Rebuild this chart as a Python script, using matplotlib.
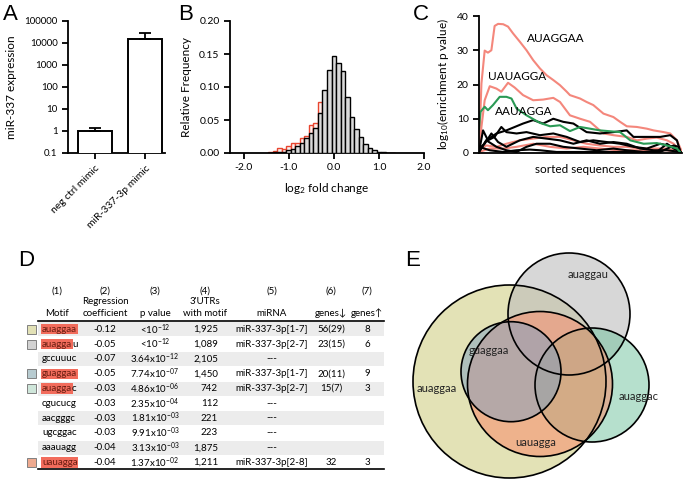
import matplotlib
matplotlib.use('Agg')
import matplotlib.pyplot as plt
from matplotlib.patches import Rectangle, Circle

plt.rcParams['font.family'] = ['Lato', 'DejaVu Sans']
plt.rcParams['mathtext.fontset'] = 'custom'
plt.rcParams['mathtext.rm'] = 'Lato'
plt.rcParams['mathtext.it'] = 'Lato:italic'
plt.rcParams['mathtext.bf'] = 'Lato:bold'
plt.rcParams['axes.linewidth'] = 1.3

# ---- A: expression
expr_labels = ['neg ctrl mimic', 'miR-337-3p mimic']
expr_mean = [1.0, 15000]
expr_err = [0.4, 12500]

# ---- B: histogram of log2 fold change (bin centres, relative frequency)
bin_centers = [-1.4, -1.3, -1.2, -1.1, -1.0, -0.9, -0.8, -0.7, -0.6, -0.5, -0.4, -0.3, -0.2, -0.1,
               0.0, 0.1, 0.2, 0.3, 0.4, 0.5, 0.6, 0.7, 0.8, 0.9, 1.0, 1.1, 1.2, 1.3]
freq_all = [0.0, 0.001, 0.001, 0.002, 0.004, 0.006, 0.010, 0.015, 0.022, 0.030, 0.038, 0.061, 0.096, 0.126,
            0.147, 0.137, 0.124, 0.085, 0.054, 0.037, 0.024, 0.013, 0.008, 0.004, 0.002, 0.001, 0.0005, 0.0003]
freq_motif = [0.002, 0.003, 0.007, 0.006, 0.010, 0.015, 0.015, 0.022, 0.026, 0.042, 0.045, 0.077, 0.060, 0.040,
              0.020, 0.010, 0.005, 0.0, 0.0, 0.0, 0.0, 0.0, 0.0, 0.0, 0.0, 0.0, 0.0, 0.0]

# ---- C: enrichment curves (x = sorted sequence position, 0-100)
auaggaa_x = [0, 1.2, 2.8, 4.4, 6.1, 7.7, 9.4, 11.9, 14.3, 16.8, 20.1, 23.4, 26.7, 30, 33.3, 36.6, 39.9,
             43.2, 44.8, 49.8, 53, 56.3, 61.3, 66.2, 69.5, 72.8, 77.8, 82.7, 86, 91, 94.2, 97.5, 100]
auaggaa_y = [0.3, 20.3, 29.9, 29.3, 30, 37.1, 37.7, 37.6, 36.9, 34.9, 32.5, 30, 27.1, 24.7, 22.7, 21.3, 19.8,
             17.9, 16.9, 15.9, 14.9, 14, 11.5, 10.5, 9.1, 7.8, 7.6, 7.1, 6.6, 6.1, 5.7, 3.7, 0.3]
uauagga_x = [0, 1.2, 2.8, 5.3, 8.6, 11, 14.3, 17.6, 21.7, 26.7, 31.6, 36.6, 39.9, 44.8, 49.8, 54.7, 61.3,
             66.2, 72.8, 77.8, 82.7, 87.6, 92.6, 95.9, 99.5]
uauagga_y = [0.3, 7.6, 15.4, 19.5, 18.8, 17.9, 20.5, 19.1, 16.9, 15.4, 15.6, 16.1, 14.9, 11, 10, 9.1, 5.7,
             5.2, 4.7, 3.7, 4.2, 4.5, 3.7, 2.7, 0.3]
aauagga_x = [0, 0.7, 2.8, 4.4, 6.9, 10.2, 13.5, 16, 18.5, 23.4, 30, 35, 39.9, 44.8, 49.8, 54.7, 59.6, 69.5,
             74.5, 81.1, 87.6, 92.6, 97.5, 99.5]
aauagga_y = [7.1, 12, 13.5, 12.5, 14, 16.4, 16.4, 15.9, 13, 11, 8.8, 7.8, 8.1, 6.4, 7.6, 7.1, 6.6, 6.1,
             3.7, 2.7, 2.9, 2.2, 1.3, 0]
pink_x = [
    [0, 3.6, 8.6, 13.5, 20.1, 26.7, 33.3, 39.9, 46.5, 53, 59.6, 66.2, 72.8, 79.4, 86, 92.6, 99.2],
    [0, 5.3, 11.9, 18.5, 26.7, 35, 43.2, 51.4, 59.6, 67.8, 76.1, 84.3, 92.6, 99.2],
]
pink_y = [
    [0.8, 2.2, 1.8, 2.7, 3.7, 4.2, 4.7, 4.7, 3.7, 2.7, 2.2, 1.8, 1.8, 1.3, 1.3, 1.3, 0.3],
    [0.3, 1.3, 1.3, 1.8, 2.7, 1.8, 1.3, 1.8, 1.3, 0.8, 0.8, 0.8, 0.8, 0.2],
]
black_x = [
    [0, 3.6, 8.6, 13.5, 21.7, 26.7, 31.6, 36.6, 41.5, 46.5, 53, 59.6, 66.2, 72.8, 76.1, 82.7, 89.3, 94.2, 97.5, 99.2],
    [0, 2, 4.4, 7.7, 11, 13.5, 18.5, 23.4, 30, 36.6, 43.2, 49.8, 56.3, 62.9, 69.5, 76.1, 82.7, 89.3, 95.9, 99.2],
    [0, 2.8, 6.1, 9.4, 13.5, 20.1, 26.7, 33.3, 39.9, 46.5, 53, 59.6, 66.2, 72.8, 79.4, 86, 92.6, 99.2],
    [0, 3.6, 8.6, 13.5, 18.5, 23.4, 28.3, 35, 41.5, 49.8, 58, 66.2, 72.8, 81.1, 87.6, 92.6, 95.9, 99.2],
    [0, 5.3, 11.9, 18.5, 25, 30, 38.2, 46.5, 54.7, 62.9, 72.8, 82.7, 89.3, 95.9, 98.4, 99.2],
]
black_y = [
    [0.3, 3.7, 5.7, 6.6, 8.6, 9.6, 8.6, 10, 9.1, 8.6, 6.1, 5.7, 6.1, 6.6, 4.7, 4.7, 4.7, 5.2, 3.7, 0.3],
    [0.3, 6.6, 3.7, 4.7, 7.6, 6.1, 5.7, 6.1, 5.2, 5.7, 4.7, 3.2, 3.7, 3.2, 2.7, 1.8, 1.3, 2.7, 1.8, 0.3],
    [1.3, 2.7, 5.7, 3.2, 1.8, 3.7, 4.7, 4.2, 3.7, 2.7, 3.7, 2.7, 3.2, 2.7, 1.3, 0.8, 0.8, 0.3],
    [0.3, 3.7, 1.8, 0.8, 0.3, 1.8, 2.7, 2.7, 1.8, 1.3, 0.8, 1.3, 0.8, 0.3, 0.3, 2.7, 1.3, 0.3],
    [1.8, 0.8, 0.3, 0.8, 1.0, 0.8, 0.3, 0.3, 0.3, 0.3, 0.3, 0.3, 0.3, 2.2, 1.8, 0.3],
]

# ---- D: table
motifs = ['auaggaa', 'auaggau', 'gccuuuc', 'guaggaa', 'auaggac', 'cgucucg', 'aacgggc', 'ugcggac', 'aaauagg', 'uauagga']
motif_hl = [7, 6, 0, 7, 6, 0, 0, 0, 0, 7]   # number of highlighted letters
coefs = ['-0.12', '-0.05', '-0.07', '-0.05', '-0.03', '-0.03', '-0.03', '-0.03', '-0.04', '-0.04']
pvals = [r'<10$^{-12}$', r'<10$^{-12}$', r'3.64x10$^{-12}$', r'7.74x10$^{-07}$', r'4.86x10$^{-06}$',
         r'2.35x10$^{-04}$', r'1.81x10$^{-03}$', r'9.91x10$^{-03}$', r'3.13x10$^{-03}$', r'1.37x10$^{-02}$']
utrs = ['1,925', '1,089', '2,105', '1,450', '742', '112', '221', '223', '1,875', '1,211']
mirnas = ['miR-337-3p[1-7]', 'miR-337-3p[2-7]', '---', 'miR-337-3p[1-7]', 'miR-337-3p[2-7]',
          '---', '---', '---', '---', 'miR-337-3p[2-8]']
genes_down = ['56(29)', '23(15)', '', '20(11)', '15(7)', '', '', '', '', '32']
genes_up = ['8', '6', '', '9', '3', '', '', '', '', '3']
square_cols = ['#e2e1b6', '#d2d2d2', None, '#b7cbd0', '#cfe6da', None, None, None, None, '#eeaa90']

# ---- E: Venn sets (drawn in this order)
venn_names = ['auaggaa', 'auaggau', 'auaggac', 'uauagga', 'guaggaa']
venn_cols = ['#e3e2b6', '#bdbdbd', '#6ec39c', '#f88c6a', '#7da0c3']

W, H = 686, 483
fig = plt.figure(figsize=(W / 100, H / 100), dpi=100)


def px_axes(l, t, r, b):
    return fig.add_axes([l / W, 1 - b / H, (r - l) / W, (b - t) / H])


def style(ax):
    for s in ['top', 'right']:
        ax.spines[s].set_visible(False)
    ax.tick_params(labelsize=7.5, width=1.3, length=4, direction='out')


# panel A
axA = px_axes(68, 21, 165, 153)
axA.bar(range(2), expr_mean, width=0.68, color='white', edgecolor='black', linewidth=1.4,
        yerr=[[0, 0], expr_err], capsize=4, error_kw=dict(elinewidth=1.3, capthick=1.3), zorder=3)
axA.set_yscale('log')
axA.set_ylim(0.1, 100000)
axA.set_xlim(-0.54, 1.4)
axA.set_yticks([0.1, 1, 10, 100, 1000, 10000, 100000])
axA.set_yticklabels(['0.1', '1', '10', '100', '1000', '10000', '100000'])
axA.minorticks_off()
axA.set_xticks(range(2))
axA.set_xticklabels(expr_labels, rotation=45, ha='right', rotation_mode='anchor')
style(axA)
axA.tick_params(axis='y', labelsize=7)
axA.set_ylabel('miR-337 expression', fontsize=8.5, labelpad=5)

# panel B
axB = px_axes(230, 21, 424, 153)
axB.bar(bin_centers, freq_motif, width=0.1, color='#fdf1ef', edgecolor='#e8452f', linewidth=1.0, zorder=2)
axB.bar(bin_centers, freq_all, width=0.1, color='#dadada', edgecolor='black', linewidth=1.0, zorder=3)
axB.set_xlim(-2.3, 2.0)
axB.set_ylim(0, 0.2)
axB.set_xticks([-2, -1, 0, 1, 2])
axB.set_xticklabels(['-2.0', '-1.0', '0.0', '1.0', '2.0'])
axB.set_yticks([0, 0.05, 0.1, 0.15, 0.2])
axB.set_yticklabels(['0.00', '0.05', '0.10', '0.15', '0.20'])
axB.set_xlabel('log$_2$ fold change', fontsize=8.5, labelpad=6)
axB.set_ylabel('Relative Frequency', fontsize=8.5, labelpad=5)
style(axB)

# panel C
axC = px_axes(479, 16, 682, 153)
for xs, ys in zip(pink_x, pink_y):
    axC.plot(xs, ys, color='#f4877c', lw=1.5)
axC.plot(auaggaa_x, auaggaa_y, color='#f4877c', lw=1.5)
axC.plot(uauagga_x, uauagga_y, color='#f4877c', lw=1.5)
for xs, ys in zip(black_x, black_y):
    axC.plot(xs, ys, color='black', lw=1.5)
axC.plot(aauagga_x, aauagga_y, color='#2a9a55', lw=1.5)
axC.text(23.7, 33.5, 'AUAGGAA', fontsize=8.5, va='center')
axC.text(4.4, 22.4, 'UAUAGGA', fontsize=8.5, va='center')
axC.text(7.7, 12.0, 'AAUAGGA', fontsize=8.5, va='center')
axC.set_xlim(0, 100)
axC.set_ylim(0, 40)
axC.set_yticks([0, 10, 20, 30, 40])
axC.set_xticks([])
axC.set_xlabel('sorted sequences', fontsize=8.5, labelpad=8)
axC.set_ylabel('log$_{10}$(enrichment p value)', fontsize=8.5, labelpad=4)
style(axC)

# overlay in pixel coordinates for D, E and panel letters
ov = fig.add_axes([0, 0, 1, 1])
ov.set_xlim(0, W)
ov.set_ylim(H, 0)
ov.axis('off')
ov.patch.set_visible(False)

for letter, x, y in [('A', 3, 15), ('B', 178, 15), ('C', 413, 14), ('D', 18, 261), ('E', 405, 261)]:
    ov.text(x, y, letter, fontsize=16, family='Liberation Sans', va='center', ha='left')

# table
fs = 7
cols_x = [57, 105, 155, 205, 272, 331, 367]
for i, lab in enumerate(['(1)', '(2)', '(3)', '(4)', '(5)', '(6)', '(7)']):
    ov.text(cols_x[i], 291, lab, fontsize=fs, ha='center', va='center')
ov.text(105, 302, 'Regression', fontsize=fs, ha='center', va='center')
ov.text(205, 302, "3'UTRs", fontsize=fs, ha='center', va='center')
for x, lab in zip(cols_x, ['Motif', 'coefficient', 'p value', 'with motif', 'miRNA', 'genes\u2193', 'genes\u2191']):
    ov.text(x, 313, lab, fontsize=fs, ha='center', va='center')

row_y0, row_dy = 329.3, 14.8
for i in range(len(motifs)):
    y = row_y0 + i * row_dy
    if i % 2 == 0:
        ov.add_patch(Rectangle((38, y - 7), 346, 14, color='#ececec', lw=0, zorder=0))
    if square_cols[i] is not None:
        ov.add_patch(Rectangle((27, y - 4.5), 9, 9, facecolor=square_cols[i], edgecolor='#808080', lw=0.7))
    n = motif_hl[i]
    if n > 0:
        t = ov.text(42, y, motifs[i][:n], fontsize=fs, va='center', ha='left', color='#6a1e12',
                    bbox=dict(facecolor='#f26c5c', edgecolor='none', pad=0.4))
        if n < len(motifs[i]):
            ov.annotate(motifs[i][n:], xy=(1, 0.5), xycoords=t, fontsize=fs, va='center', ha='left')
    else:
        ov.text(42, y, motifs[i], fontsize=fs, va='center', ha='left')
    ov.text(105, y, coefs[i], fontsize=fs, ha='center', va='center')
    ov.text(155, y, pvals[i], fontsize=fs, ha='center', va='center')
    ov.text(218, y, utrs[i], fontsize=fs, ha='right', va='center')
    ov.text(272, y, mirnas[i], fontsize=fs, ha='center', va='center')
    ov.text(331, y, genes_down[i], fontsize=fs, ha='center', va='center')
    ov.text(367, y, genes_up[i], fontsize=fs, ha='center', va='center')
ov.plot([38, 384], [321, 321], color='black', lw=1.2)
ov.plot([38, 384], [469, 469], color='black', lw=1.2)

# Venn
venn_geo = [(509.5, 381.5, 96.5), (569, 314, 61), (592, 385, 57), (540, 384, 72.5), (511, 371.7, 50)]
venn_alpha = [1.0, 0.6, 0.5, 0.55, 0.5]
for (cx, cy, r), c, a in zip(venn_geo, venn_cols, venn_alpha):
    ov.add_patch(Circle((cx, cy), r, facecolor=c, alpha=a, edgecolor='none'))
for (cx, cy, r) in venn_geo:
    ov.add_patch(Circle((cx, cy), r, facecolor='none', edgecolor='black', lw=1.2))
for name, (x, y) in zip(venn_names, [(437, 388), (588, 275), (639, 397), (536, 443), (489, 350)]):
    ov.text(x, y, name, fontsize=8, ha='center', va='center', color='#222222')

fig.savefig('out.png', dpi=100)
